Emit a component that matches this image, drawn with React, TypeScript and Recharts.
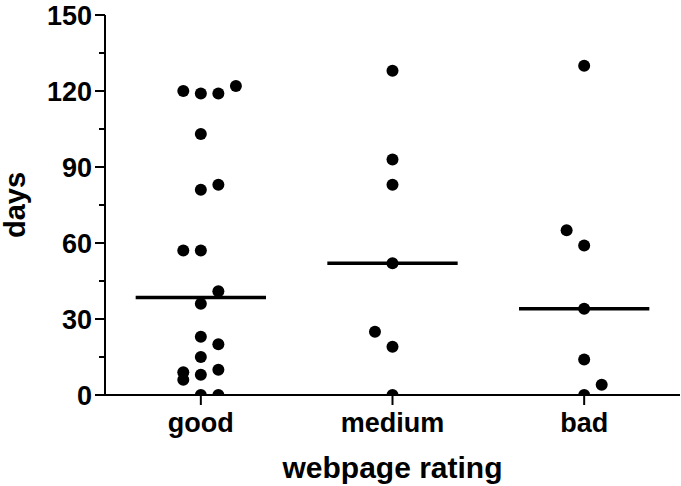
import { ReferenceLine, Scatter, ScatterChart, XAxis, YAxis } from "recharts";

// categories on the x axis
const categories = ["good", "medium", "bad"];

// days per item, and the lane each dot sits in (horizontal jitter, in dot widths)
const goodDays = [120, 119, 119, 122, 103, 81, 83, 57, 57, 41, 36, 23, 20, 15, 9, 6, 8, 10, 0, 0];
const goodLanes = [-1, 0, 1, 2, 0, 0, 1, -1, 0, 1, 0, 0, 1, 0, -1, -1, 0, 1, 0, 1];

const mediumDays = [128, 93, 83, 52, 25, 19, 0];
const mediumLanes = [0, 0, 0, 0, -1, 0, 0];

const badDays = [130, 65, 59, 34, 14, 4, 0];
const badLanes = [0, -1, 0, 0, 0, 1, 0];

const yTicks = [0, 15, 30, 45, 60, 75, 90, 105, 120, 135, 150];

const LANE_STEP = 0.0915;
const MEDIAN_HALF = 0.34;
const FONT = "'Liberation Sans', Arial, sans-serif";

const groups = [
	{ days: goodDays, lanes: goodLanes },
	{ days: mediumDays, lanes: mediumLanes },
	{ days: badDays, lanes: badLanes },
];

function median(values: number[]) {
	const s = [...values].sort((a, b) => a - b);
	const m = Math.floor(s.length / 2);
	return s.length % 2 ? s[m] : (s[m - 1] + s[m]) / 2;
}

const points = groups.flatMap((g, i) =>
	g.days.map((d, j) => ({ x: i + 0.5 + g.lanes[j] * LANE_STEP, y: d }))
);

const medians = groups.map((g, i) => ({ x: i + 0.5, y: median(g.days) }));

// eslint-disable-next-line @typescript-eslint/no-explicit-any
const YTick = (props: any) => {
	const { x, y, payload } = props;
	const major = payload.value % 30 === 0;
	return (
		<g>
			<line x1={x - (major ? 10 : 6)} x2={x} y1={y} y2={y} stroke="#000" strokeWidth={2} />
			{major && (
				<text
					x={x - 13}
					y={y}
					dy="0.36em"
					textAnchor="end"
					fontFamily={FONT}
					fontWeight="bold"
					fontSize={27}
					fill="#000"
				>
					{payload.value}
				</text>
			)}
		</g>
	);
};

// eslint-disable-next-line @typescript-eslint/no-explicit-any
const DaysLabel = (props: any) => {
	const vb = props.viewBox;
	const cx = vb.x + 25;
	const cy = vb.y + vb.height / 2;
	return (
		<text
			x={cx}
			y={cy}
			transform={`rotate(-90, ${cx}, ${cy})`}
			textAnchor="middle"
			fontFamily={FONT}
			fontWeight="bold"
			fontSize={29}
			fill="#000"
		>
			days
		</text>
	);
};

// eslint-disable-next-line @typescript-eslint/no-explicit-any
const Dot = (props: any) => <circle cx={props.cx} cy={props.cy} r={6} fill="#000" />;

export default function App() {
	return (
		<div style={{ position: "absolute", left: 0, top: 0, background: "#fff" }}>
			<ScatterChart width={681} height={486} margin={{ top: 15, right: 1, bottom: 0, left: 0 }}>
				<XAxis
					type="number"
					dataKey="x"
					domain={[0, 3]}
					ticks={[0.5, 1.5, 2.5]}
					tickFormatter={(v: number) => categories[Math.floor(v)]}
					height={91}
					axisLine={{ stroke: "#000", strokeWidth: 2 }}
					tickLine={{ stroke: "#000", strokeWidth: 2 }}
					tickSize={10}
					tickMargin={8}
					tick={{ fill: "#000", fontFamily: FONT, fontWeight: "bold", fontSize: 27 }}
					label={{
						value: "webpage rating",
						position: "insideBottom",
						offset: 8,
						fill: "#000",
						fontFamily: FONT,
						fontWeight: "bold",
						fontSize: 30,
					}}
				/>
				<YAxis
					type="number"
					dataKey="y"
					domain={[0, 150]}
					ticks={yTicks}
					allowDataOverflow
					interval={0}
					width={105}
					axisLine={{ stroke: "#000", strokeWidth: 2 }}
					tickLine={false}
					tickSize={0}
					tickMargin={0}
					tick={YTick}
					label={<DaysLabel />}
				/>
				<Scatter data={points} shape={Dot} isAnimationActive={false} />
				{medians.map((m) => (
					<ReferenceLine
						key={m.x}
						segment={[
							{ x: m.x - MEDIAN_HALF, y: m.y },
							{ x: m.x + MEDIAN_HALF, y: m.y },
						]}
						stroke="#000"
						strokeWidth={3.5}
					/>
				))}
			</ScatterChart>
		</div>
	);
}
